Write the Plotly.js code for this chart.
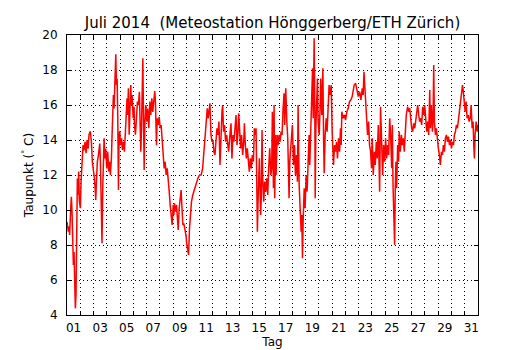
<!DOCTYPE html>
<html><head><meta charset="utf-8">
<script src="https://cdn.plot.ly/plotly-3.0.1.min.js"></script>
<style>html,body{margin:0;padding:0;background:#fff}</style>
</head><body><div id="chart" style="width:530px;height:350px"></div>
<script>
// [Tag (Dezimal), Taupunkt °C]
const messungTag01bis06 = [[1.00,9.33],[1.10,8.76],[1.15,9.05],[1.20,8.57],[1.28,10.1],[1.33,10.76],[1.38,9.9],[1.43,7.8],[1.48,6.86],[1.53,7.6],[1.58,5.5],[1.63,4.38],[1.68,5.14],[1.73,8.57],[1.78,11.8],[1.83,10.86],[1.88,12.2],[1.93,10.5],[2.01,10.1],[2.06,11.6],[2.11,12.4],[2.16,12.76],[2.21,13.7],[2.28,13.4],[2.36,13.9],[2.44,13.24],[2.51,14.0],[2.59,13.5],[2.66,14.3],[2.76,14.5],[2.84,13.9],[2.91,12.76],[2.99,12.38],[3.07,11.8],[3.12,11.24],[3.17,10.57],[3.22,11.6],[3.29,12.76],[3.37,13.14],[3.47,13.8],[3.52,12.76],[3.57,10.86],[3.64,8.1],[3.70,11.43],[3.75,13.7],[3.80,14.1],[3.85,12.95],[3.92,13.5],[4.00,12.38],[4.07,13.33],[4.15,12.2],[4.22,12.76],[4.27,12.0],[4.35,12.95],[4.40,14.3],[4.45,15.6],[4.50,16.57],[4.55,15.8],[4.60,16.95],[4.65,18.1],[4.68,18.9],[4.73,17.14],[4.78,17.5],[4.83,15.24],[4.88,11.14],[4.93,14.3],[4.98,14.5],[5.03,13.7],[5.11,14.1],[5.18,13.43],[5.26,13.9],[5.33,13.33],[5.41,14.67],[5.48,15.6],[5.53,16.38],[5.58,15.43],[5.63,16.95],[5.69,14.3],[5.74,16.2],[5.81,17.14],[5.86,16.0],[5.91,16.57],[5.99,15.24],[6.06,15.9]];
const messungTag06bis11 = [[6.09,14.86],[6.16,14.3],[6.24,15.24],[6.31,16.2],[6.39,16.0],[6.46,16.76],[6.51,15.05],[6.57,13.33],[6.62,14.67],[6.67,16.2],[6.72,18.67],[6.77,15.24],[6.82,12.29],[6.87,14.86],[6.94,16.0],[7.02,15.05],[7.09,15.8],[7.17,14.67],[7.25,16.2],[7.32,15.43],[7.40,16.38],[7.47,15.6],[7.55,16.57],[7.62,16.8],[7.67,16.2],[7.75,13.7],[7.80,15.24],[7.88,14.86],[7.95,15.33],[8.03,14.67],[8.10,14.86],[8.18,13.9],[8.25,13.14],[8.33,12.38],[8.40,12.76],[8.48,12.0],[8.56,12.38],[8.63,11.43],[8.71,11.05],[8.78,10.29],[8.86,9.71],[8.93,9.14],[9.01,10.29],[9.06,9.71],[9.11,10.38],[9.19,9.9],[9.26,10.29],[9.34,9.33],[9.39,8.86],[9.46,10.1],[9.54,10.86],[9.61,11.14],[9.66,10.29],[9.74,9.14],[9.81,9.24],[9.89,8.95],[9.97,8.57],[10.04,8.0],[10.12,7.62],[10.17,7.43],[10.24,8.95],[10.32,9.9],[10.39,10.48],[10.49,10.86],[10.62,11.24],[10.75,11.62],[10.87,11.81],[11.00,12.0],[11.12,12.0],[11.23,12.38],[11.33,13.52]];
const messungTag11bis16 = [[11.43,14.29],[11.50,15.05],[11.58,15.81],[11.65,15.24],[11.73,15.9],[11.78,16.1],[11.86,14.29],[11.93,13.9],[12.01,14.0],[12.08,13.33],[12.16,13.14],[12.23,13.71],[12.31,14.67],[12.39,14.29],[12.46,15.05],[12.54,12.57],[12.61,14.29],[12.69,15.62],[12.74,16.0],[12.81,14.48],[12.89,14.86],[12.96,13.9],[13.04,14.29],[13.12,13.71],[13.19,13.33],[13.29,14.29],[13.37,14.95],[13.44,12.95],[13.52,14.29],[13.59,13.9],[13.67,15.05],[13.75,15.43],[13.82,13.71],[13.90,14.48],[13.95,15.52],[14.02,14.29],[14.10,13.52],[14.17,14.29],[14.25,13.14],[14.33,13.9],[14.38,14.95],[14.45,13.71],[14.53,12.95],[14.60,13.52],[14.68,12.57],[14.75,12.19],[14.83,12.95],[14.90,12.38],[14.98,13.14],[15.06,12.76],[15.13,14.67],[15.21,14.29],[15.26,14.67],[15.31,11.43],[15.36,8.76],[15.41,10.48],[15.46,12.0],[15.51,12.95],[15.56,11.24],[15.61,9.71],[15.66,10.86],[15.71,14.57],[15.76,11.81],[15.84,10.48],[15.91,11.62],[15.99,11.05],[16.06,11.81],[16.14,10.86],[16.21,12.38],[16.29,13.52],[16.37,12.0]];
const messungTag16bis21 = [[16.44,12.38],[16.49,15.62],[16.57,11.24],[16.62,16.0],[16.67,10.67],[16.72,14.29],[16.77,12.0],[16.85,14.29],[16.92,13.71],[17.00,14.29],[17.07,13.9],[17.15,14.48],[17.22,14.29],[17.30,15.81],[17.37,16.67],[17.42,14.86],[17.50,16.95],[17.58,15.05],[17.65,14.1],[17.70,12.38],[17.75,10.67],[17.80,12.76],[17.88,13.71],[17.95,14.48],[18.00,14.86],[18.08,12.57],[18.16,13.71],[18.23,12.0],[18.31,13.14],[18.38,11.62],[18.43,16.0],[18.51,11.43],[18.58,10.1],[18.66,8.76],[18.71,9.71],[18.76,7.24],[18.81,9.33],[18.89,11.24],[18.96,10.1],[19.04,12.0],[19.11,11.05],[19.19,12.76],[19.26,14.29],[19.31,12.57],[19.39,14.86],[19.44,16.19],[19.52,18.1],[19.57,15.24],[19.64,19.81],[19.69,16.19],[19.72,10.67],[19.77,14.67],[19.84,16.19],[19.89,17.52],[19.94,15.05],[20.02,14.29],[20.09,15.81],[20.14,17.52],[20.22,15.43],[20.30,18.1],[20.35,14.29],[20.40,12.1],[20.47,14.29],[20.55,15.24],[20.62,14.48],[20.70,15.81],[20.77,17.14],[20.85,16.57],[20.93,17.14],[21.00,14.48],[21.05,13.52],[21.10,12.57],[21.18,13.71],[21.25,13.33],[21.33,13.9],[21.40,12.95],[21.48,14.1],[21.56,13.33]];
const messungTag21bis26 = [[21.63,14.67],[21.68,13.71],[21.73,15.62],[21.81,15.24],[21.91,15.43],[22.01,15.14],[22.11,15.62],[22.21,15.81],[22.31,16.19],[22.41,16.29],[22.51,16.48],[22.59,16.95],[22.66,17.14],[22.77,17.24],[22.87,16.86],[22.97,16.48],[23.07,16.76],[23.17,16.29],[23.27,16.95],[23.34,16.57],[23.40,17.9],[23.45,17.14],[23.52,16.0],[23.60,15.24],[23.67,14.29],[23.75,15.05],[23.82,13.71],[23.90,13.33],[23.97,12.38],[24.02,14.1],[24.10,12.0],[24.18,13.33],[24.25,12.57],[24.33,13.9],[24.40,12.95],[24.48,14.86],[24.53,12.57],[24.58,11.05],[24.65,15.9],[24.73,13.52],[24.81,12.0],[24.88,13.71],[24.96,12.76],[25.03,14.1],[25.11,12.95],[25.18,13.71],[25.26,13.14],[25.34,15.24],[25.41,14.29],[25.49,12.38],[25.54,14.86],[25.59,11.43],[25.64,9.71],[25.71,8.0],[25.76,11.24],[25.81,12.76],[25.86,11.24],[25.94,13.71],[26.01,12.76],[26.06,14.48],[26.14,13.33],[26.22,14.29],[26.29,13.71],[26.37,14.1],[26.44,13.33],[26.52,15.05],[26.59,15.43],[26.69,15.9]];
const messungTag26bis32 = [[26.77,15.62],[26.85,15.81],[26.92,15.05],[27.00,14.67],[27.07,14.48],[27.15,14.95],[27.23,14.67],[27.30,15.05],[27.38,15.43],[27.45,16.0],[27.53,15.43],[27.60,15.05],[27.68,15.24],[27.75,14.86],[27.83,15.9],[27.91,15.43],[27.98,16.0],[28.06,14.86],[28.13,14.48],[28.21,15.05],[28.28,14.29],[28.36,16.86],[28.41,14.67],[28.48,16.0],[28.56,14.48],[28.61,15.24],[28.66,18.29],[28.71,15.05],[28.79,14.29],[28.86,14.67],[28.94,13.9],[29.01,13.52],[29.09,13.14],[29.16,12.57],[29.24,13.33],[29.32,13.14],[29.39,13.71],[29.47,13.33],[29.54,14.1],[29.62,14.29],[29.69,13.9],[29.77,14.19],[29.85,13.71],[29.92,14.0],[30.00,13.52],[30.07,13.9],[30.15,13.71],[30.22,14.29],[30.30,14.48],[30.37,14.86],[30.45,14.67],[30.53,15.24],[30.60,15.81],[30.68,16.38],[30.75,16.76],[30.83,17.14],[30.88,16.86],[30.95,16.19],[31.03,15.62],[31.10,16.19],[31.18,15.24],[31.26,15.43],[31.33,15.05],[31.41,15.24],[31.48,16.0],[31.56,14.67],[31.63,15.05],[31.68,13.71],[31.73,12.95],[31.78,14.29],[31.86,15.05],[31.94,14.48],[32.00,14.86]];

const dayGrid = [1,2,3,4,5,6,7,8,9,10,11,12,13,14,15,16,17,18,19,20,21,22,23,24,25,26,27,28,29,30,31,32];
const dayLabelPos = [1.5,3.5,5.5,7.5,9.5,11.5,13.5,15.5,17.5,19.5,21.5,23.5,25.5,27.5,29.5,31.5];
const dayLabels = ['01','03','05','07','09','11','13','15','17','19','21','23','25','27','29','31'];
const yTicks = [4,6,8,10,12,14,16,18,20];

const alle = [].concat(messungTag01bis06, messungTag06bis11, messungTag11bis16, messungTag16bis21, messungTag21bis26, messungTag26bis32);
const xs = alle.map(p => p[0]);
const ys = alle.map(p => p[1]);

const font = {family: 'DejaVu Sans', size: 12, color: '#000'};
const traces = [
  {x: xs, y: ys, type: 'scatter', mode: 'lines', line: {color: '#ff0000', width: 1.5}, xaxis: 'x', yaxis: 'y', hoverinfo: 'skip', showlegend: false},
  {x: [1, 32], y: [null, null], type: 'scatter', mode: 'lines', xaxis: 'x2', yaxis: 'y', hoverinfo: 'skip', showlegend: false}
];
const layout = {
  width: 530, height: 350,
  margin: {l: 67, r: 52, t: 35, b: 35, pad: 0},
  paper_bgcolor: '#fff', plot_bgcolor: '#fff',
  font: font,
  showlegend: false,
  title: {text: 'Juli 2014\u00a0\u00a0(Meteostation Hönggerberg/ETH Zürich)', font: {family: 'DejaVu Sans', size: 15, color: '#000'}, x: 0.5, xref: 'paper', xanchor: 'center', y: 0.936, yref: 'container', yanchor: 'middle'},
  xaxis: {
    range: [1, 32], tickmode: 'array', tickvals: dayGrid, showticklabels: false,
    ticks: 'inside', ticklen: 4, tickcolor: '#000', tickwidth: 1,
    showline: true, linecolor: '#000', linewidth: 1, mirror: 'ticks',
    showgrid: true, gridcolor: '#000', griddash: '1px,3px', gridwidth: 1, zeroline: false
  },
  xaxis2: {
    overlaying: 'x', anchor: 'y', side: 'bottom', range: [1, 32],
    tickmode: 'array', tickvals: dayLabelPos, ticktext: dayLabels,
    ticks: '', showgrid: false, showline: false, zeroline: false,
    tickfont: font, ticklabelstandoff: 4,
    title: {text: 'Tag', font: font, standoff: 3}
  },
  yaxis: {
    range: [4, 20], tickmode: 'array', tickvals: yTicks,
    ticks: 'inside', ticklen: 4, tickcolor: '#000', tickwidth: 1,
    showline: true, linecolor: '#000', linewidth: 1, mirror: 'ticks',
    showgrid: true, gridcolor: '#000', griddash: '1px,3px', gridwidth: 1, zeroline: false,
    tickfont: font, ticklabelstandoff: 6,
    title: {text: 'Taupunkt (<sup>°</sup> C)', font: font, standoff: 6}
  }
};
Plotly.newPlot('chart', traces, layout, {staticPlot: true, displayModeBar: false});
</script></body></html>
